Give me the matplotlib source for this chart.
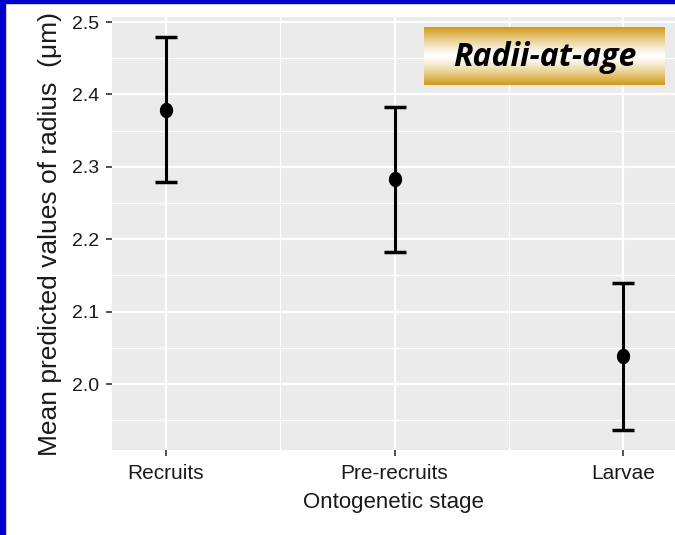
import numpy as np
import matplotlib
matplotlib.use("Agg")
import matplotlib.pyplot as plt
from matplotlib.patches import Rectangle
from matplotlib.path import Path

categories = ["Recruits", "Pre-recruits", "Larvae"]
means = [2.379, 2.283, 2.039]
lower = [2.279, 2.183, 1.937]
upper = [2.479, 2.383, 2.140]
yticks = [2.0, 2.1, 2.2, 2.3, 2.4, 2.5]

W, H = 675, 535
fig = plt.figure(figsize=(W/100, H/100), dpi=100)
fig.patch.set_facecolor("white")

plt.rcParams['font.family'] = ['Liberation Sans', 'DejaVu Sans']

# blue frame
fig.patches.append(Rectangle((0, 0), 5/W, 1, transform=fig.transFigure, color="#0000CC", zorder=10))
fig.patches.append(Rectangle((0, 1-3/H), 1, 3/H, transform=fig.transFigure, color="#0000CC", zorder=10))

ax = fig.add_axes([112/W, 1-450/H, (675-112)/W, (450-17)/H])
ax.set_facecolor("#EBEBEB")
for s in ax.spines.values():
    s.set_visible(False)

x = np.arange(1, len(categories)+1)
ax.set_xlim(0.764, 3.227)
ax.set_ylim(1.909, 2.507)

# grid
for yv in yticks:
    ax.axhline(yv, color="white", lw=1.6, zorder=0)
for yv in np.arange(1.95, 2.5, 0.1):
    ax.axhline(yv, color="white", lw=0.8, zorder=0)
for xv in x:
    ax.axvline(xv, color="white", lw=1.6, zorder=0)
for xv in x[:-1] + 0.5:
    ax.axvline(xv, color="white", lw=0.8, zorder=0)

# slightly tall ellipse marker (reference is vertically stretched)
th = np.linspace(0, 2*np.pi, 60)
ell = Path(np.column_stack([np.cos(th) / 1.17, np.sin(th)]), closed=True)

m = np.array(means)
ax.errorbar(x, m, yerr=[m - np.array(lower), np.array(upper) - m], fmt="none",
            ecolor="black", elinewidth=2.2, capsize=8, capthick=2.5, zorder=3)
ax.plot(x, m, linestyle="none", marker=ell, color="black", ms=10, zorder=4)

ax.set_xticks(x)
ax.set_xticklabels(categories)
ax.set_yticks(yticks)
ax.set_yticklabels([f"{v:.1f}" for v in yticks])
ax.tick_params(axis="both", colors="#333333", length=4.3, width=1.2, labelcolor="#1a1a1a")
ax.tick_params(axis="y", labelsize=14, pad=5)
ax.tick_params(axis="x", labelsize=15, pad=6)
ax.set_xlabel("Ontogenetic stage", fontsize=16, color="#1a1a1a", labelpad=6)
ax.set_ylabel("Mean predicted values of radius  (\u03bcm)", fontsize=19, color="#1a1a1a", labelpad=7)

# title box with gradient
bx0, by0, bx1, by1 = 424, 27, 665, 85
bax = fig.add_axes([bx0/W, 1-by1/H, (bx1-bx0)/W, (by1-by0)/H])
t = np.linspace(0, 1, 200)
v = np.abs(t - 0.5) * 2  # 0 at middle, 1 at edges
v = v**1.3
gold = np.array([0.82, 0.60, 0.08])
white = np.array([1.0, 1.0, 1.0])
img = white[None, :] * (1 - v[:, None]) + gold[None, :] * v[:, None]
img = np.repeat(img[:, None, :], 2, axis=1)
bax.imshow(img, aspect="auto", extent=[0, 1, 0, 1])
bax.set_axis_off()
bax.text(0.5, 0.48, "Radii-at-age", ha="center", va="center", fontsize=23,
         fontweight="bold", fontstyle="italic", family=["Open Sans", "Lato", "DejaVu Sans"], color="black")

fig.savefig("out.png", dpi=100)
